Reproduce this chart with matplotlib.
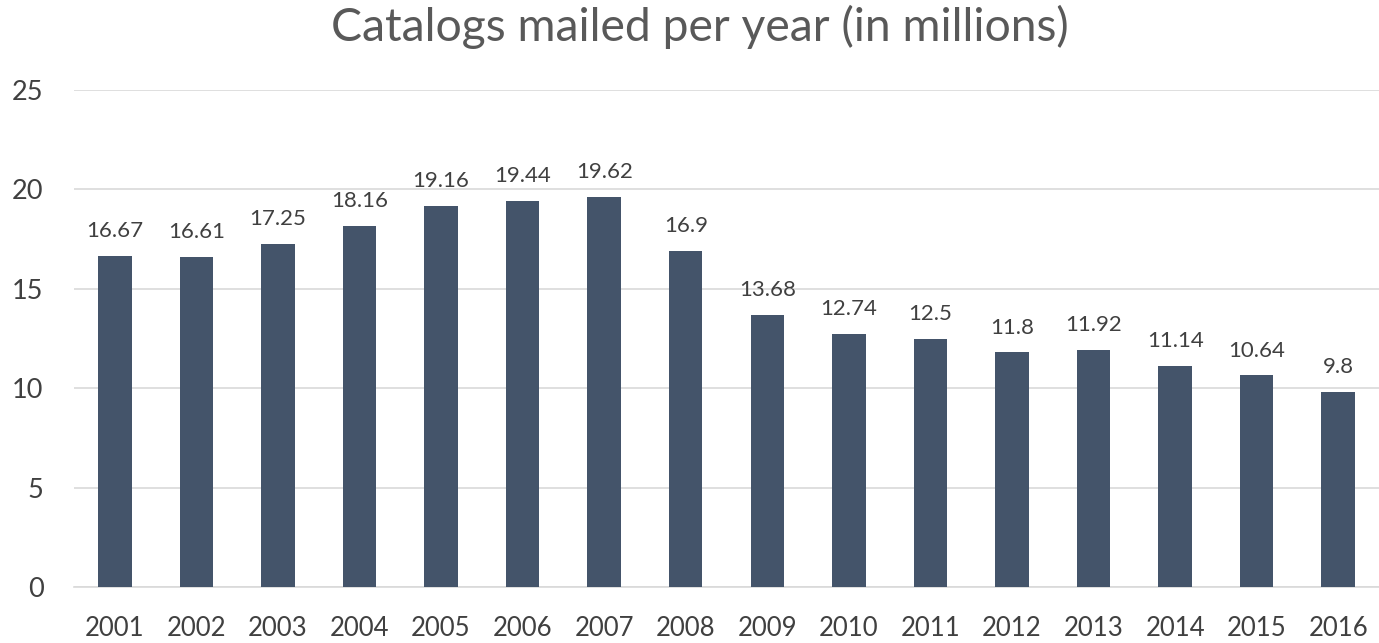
import matplotlib
matplotlib.use("Agg")
import matplotlib.pyplot as plt

# chart data
years = ["2001", "2002", "2003", "2004", "2005", "2006", "2007", "2008",
         "2009", "2010", "2011", "2012", "2013", "2014", "2015", "2016"]
catalogs = [16.67, 16.61, 17.25, 18.16, 19.16, 19.44, 19.62, 16.9,
            13.68, 12.74, 12.5, 11.8, 11.92, 11.14, 10.64, 9.8]
label_text = ["16.67", "16.61", "17.25", "18.16", "19.16", "19.44", "19.62", "16.9",
              "13.68", "12.74", "12.5", "11.8", "11.92", "11.14", "10.64", "9.8"]
y_ticks = [0, 5, 10, 15, 20, 25]

plt.rcParams["font.family"] = ["Lato", "DejaVu Sans"]

fig = plt.figure(figsize=(13.79, 6.43), dpi=100)
ax = fig.add_axes([74 / 1379, 1 - 587 / 643, 1305 / 1379, (587 - 90) / 643])

x = range(len(years))
bars = ax.bar(x, catalogs, width=0.41, color="#44546A", zorder=3)

for b, t in zip(bars, label_text):
    ax.text(b.get_x() + b.get_width() / 2, b.get_height() + 0.75, t,
            ha="center", va="bottom", fontsize=16, color="#404040")

ax.set_xlim(-0.5, len(years) - 0.5)
ax.set_ylim(0, 25)
ax.set_yticks(y_ticks)
ax.set_xticks(list(x))
ax.set_xticklabels(years)
ax.tick_params(axis="x", length=0, labelsize=18.5, colors="#404040", pad=21)
ax.tick_params(axis="y", length=0, labelsize=19.5, colors="#404040", pad=22)
ax.grid(axis="y", color="#D9D9D9", linewidth=1.2, zorder=0)
for s in ["top", "right", "left"]:
    ax.spines[s].set_visible(False)
ax.spines["bottom"].set_color("#D9D9D9")
ax.spines["bottom"].set_linewidth(1.2)

fig.text(700 / 1379, 1 - 41 / 643, "Catalogs mailed per year (in millions)",
         ha="center", va="baseline", fontsize=33.3, color="#595959")

fig.savefig("out.png", dpi=100)
